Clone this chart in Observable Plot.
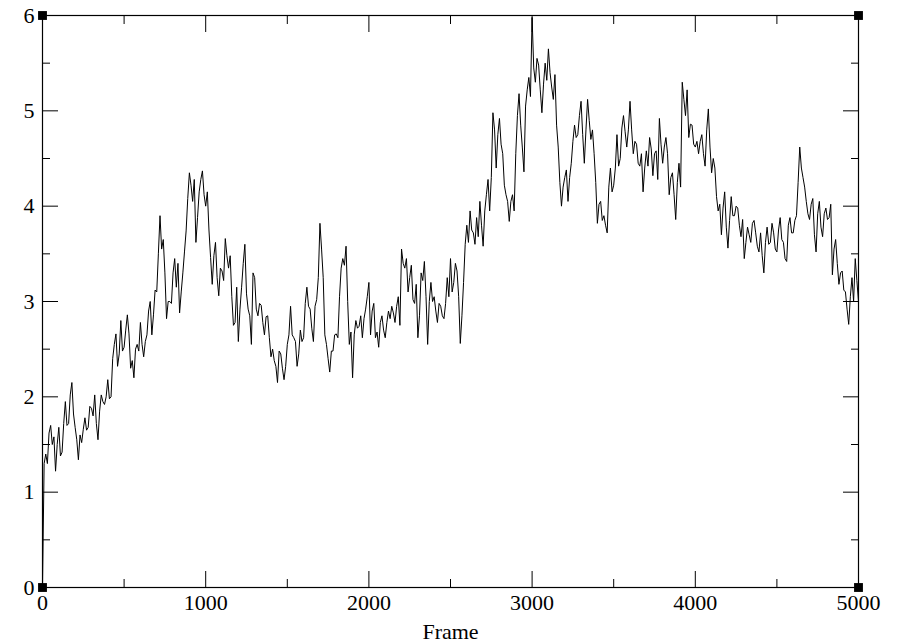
<!DOCTYPE html>
<html><head><meta charset="utf-8">
<script src="https://cdn.jsdelivr.net/npm/d3@7"></script>
<script src="https://cdn.jsdelivr.net/npm/@observablehq/plot@0.6"></script>
<style>html,body{margin:0;padding:0;background:#fff} svg{display:block}</style>
</head><body><div id="chart"></div>
<script>
// Frame step between samples (frames 0, 10, 20, ... 5000)
const frameStep = 10;
// Values, one per sample
const values = [
  0.00,1.30, 1.40,1.30, 1.62,1.70, 1.50,1.58, 1.22,1.50,
  1.68,1.38, 1.42,1.72, 1.95,1.70, 1.72,2.02, 2.15,1.82,
  1.68,1.55, 1.34,1.60, 1.52,1.66, 1.78,1.65, 1.68,1.90,
  1.88,1.80, 2.02,1.72, 1.55,1.85, 2.02,1.95, 1.92,2.00,
  2.18,1.98, 2.00,2.40, 2.55,2.66, 2.32,2.45, 2.80,2.48,
  2.52,2.70, 2.86,2.66, 2.30,2.38, 2.20,2.50, 2.55,2.48,
  2.78,2.55, 2.42,2.58, 2.65,2.90, 3.00,2.65, 2.86,3.12,
  3.10,3.50, 3.90,3.55, 3.65,3.30, 2.82,3.00, 3.00,2.98,
  3.30,3.45, 3.15,3.40, 2.88,3.10, 3.30,3.52, 3.74,4.08,
  4.35,4.22, 4.05,4.28, 3.62,3.88, 4.15,4.28, 4.37,4.12,
  4.00,4.15, 3.75,3.46, 3.18,3.48, 3.62,3.25, 3.06,3.35,
  3.32,3.22, 3.66,3.48, 3.35,3.48, 3.05,2.75, 2.78,3.15,
  2.58,2.92, 3.15,3.40, 3.60,3.08, 2.92,2.85, 2.55,3.30,
  3.25,2.92, 2.85,2.98, 2.96,2.78, 2.65,2.84, 2.85,2.62,
  2.42,2.50, 2.38,2.32, 2.15,2.48, 2.45,2.30, 2.18,2.32,
  2.55,2.65, 2.95,2.65, 2.62,2.58, 2.32,2.45, 2.70,2.58,
  2.62,2.98, 3.15,2.95, 2.92,2.72, 2.58,2.95, 3.02,3.25,
  3.82,3.55, 3.25,2.65, 2.55,2.40, 2.26,2.48, 2.48,2.65,
  2.66,2.62, 3.05,3.35, 3.45,3.38, 3.58,3.00, 2.55,2.68,
  2.20,2.65, 2.80,2.72, 2.74,2.85, 2.62,2.82, 2.92,3.05,
  3.20,2.65, 2.90,2.98, 2.62,2.68, 2.52,2.78, 2.85,2.70,
  2.62,2.78, 2.90,2.82, 2.95,2.88, 2.78,2.95, 3.05,2.75,
  3.55,3.40, 3.35,3.45, 3.10,3.25, 3.38,3.02, 2.98,3.18,
  2.62,2.85, 3.30,3.22, 3.42,3.05, 2.55,3.00, 3.20,3.00,
  3.05,2.90, 2.78,2.98, 2.95,2.85, 2.82,2.98, 3.25,3.05,
  3.45,3.10, 3.20,3.40, 3.32,3.05, 2.56,2.85, 3.20,3.60,
  3.80,3.62, 3.95,3.75, 3.72,3.60, 3.88,3.68, 4.05,3.80,
  3.58,3.95, 4.12,4.28, 3.95,4.30, 4.98,4.80, 4.40,4.75,
  4.92,4.65, 4.55,4.22, 4.12,4.05, 3.84,4.05, 4.12,3.95,
  4.55,4.95, 5.18,4.85, 4.62,4.36, 5.05,5.22, 5.35,5.15,
  5.98,5.45, 5.30,5.55, 5.48,5.22, 4.98,5.28, 5.50,5.32,
  5.65,5.40, 5.25,5.12, 5.38,4.85, 4.62,4.25, 4.00,4.20,
  4.30,4.38, 4.05,4.30, 4.45,4.68, 4.85,4.72, 4.75,4.95,
  5.10,4.75, 4.45,4.80, 5.12,4.90, 4.70,4.80, 4.55,4.25,
  3.82,4.02, 4.05,3.85, 3.90,3.80, 3.72,4.20, 4.40,4.15,
  4.22,4.40, 4.75,4.42, 4.50,4.82, 4.95,4.78, 4.62,4.80,
  5.10,4.80, 4.55,4.68, 4.65,4.45, 4.42,4.55, 4.15,4.40,
  4.58,4.42, 4.72,4.60, 4.32,4.55, 4.58,4.28, 4.92,4.65,
  4.45,4.62, 4.72,4.55, 4.12,4.30, 4.35,4.12, 3.86,4.25,
  4.45,4.20, 5.30,5.12, 4.95,5.22, 4.72,4.86, 4.85,4.65,
  4.62,4.68, 4.55,4.68, 4.75,4.55, 4.42,4.80, 5.02,4.62,
  4.35,4.50, 4.40,4.10, 3.95,4.02, 3.70,3.98, 4.15,3.78,
  3.56,3.85, 4.10,3.90, 3.90,4.00, 3.98,3.80, 3.68,3.86,
  3.45,3.62, 3.78,3.70, 3.62,3.82, 3.85,3.72, 3.58,3.52,
  3.72,3.48, 3.30,3.62, 3.78,3.60, 3.62,3.82, 3.72,3.55,
  3.52,3.75, 3.88,3.65, 3.62,3.45, 3.42,3.80, 3.88,3.72,
  3.72,3.85, 3.90,4.25, 4.62,4.40, 4.30,4.20, 4.05,3.92,
  3.86,4.02, 4.08,3.70, 3.52,3.92, 4.05,3.78, 3.68,3.92,
  3.98,3.86, 3.88,4.02, 3.28,3.55, 3.65,3.40, 3.18,3.30,
  3.32,3.12, 3.10,2.92, 2.76,3.05, 3.25,3.00, 3.45,3.22,
  3.00
];
const xDomain = [0, 5000];
const yDomain = [0, 6];
const xTicks = [0, 1000, 2000, 3000, 4000, 5000];
const xMinorTicks = [500, 1500, 2500, 3500, 4500];
const yTicks = [0, 1, 2, 3, 4, 5, 6];
const yMinorTicks = [0.5, 1.5, 2.5, 3.5, 4.5, 5.5];
const xLabel = "Frame";

const data = values.map((v, i) => ({frame: i * frameStep, value: v}));
const corners = [];
for (const cx of xDomain) for (const cy of yDomain) corners.push({cx, cy});

const font = "'Liberation Serif', 'Times New Roman', serif";
const tickOpts = {tickFormat: () => "", label: null, strokeWidth: 1};

const chart = Plot.plot({
  width: 897,
  height: 644,
  marginLeft: 42,
  marginRight: 39,
  marginTop: 15,
  marginBottom: 57,
  style: {fontFamily: font, fontSize: "22px", color: "black", background: "white", overflow: "visible"},
  x: {domain: xDomain},
  y: {domain: yDomain},
  marks: [
    Plot.line(data, {x: "frame", y: "value", stroke: "black", strokeWidth: 1}),
    Plot.frame({stroke: "black", strokeWidth: 1.2}),
    // inward major/minor ticks on all four sides
    Plot.axisX({anchor: "bottom", ticks: xTicks, tickSize: -16, ...tickOpts}),
    Plot.axisX({anchor: "bottom", ticks: xMinorTicks, tickSize: -8, ...tickOpts}),
    Plot.axisX({anchor: "top", ticks: xTicks, tickSize: -16, ...tickOpts}),
    Plot.axisX({anchor: "top", ticks: xMinorTicks, tickSize: -8, ...tickOpts}),
    Plot.axisY({anchor: "left", ticks: yTicks, tickSize: -16, ...tickOpts}),
    Plot.axisY({anchor: "left", ticks: yMinorTicks, tickSize: -8, ...tickOpts}),
    Plot.axisY({anchor: "right", ticks: yTicks, tickSize: -16, ...tickOpts}),
    Plot.axisY({anchor: "right", ticks: yMinorTicks, tickSize: -8, ...tickOpts}),
    // tick labels and axis title
    Plot.axisX({anchor: "bottom", ticks: xTicks, tickSize: 0, tickPadding: 7, tickFormat: d => String(d),
      fontFamily: font, fontSize: 22,
      label: xLabel, labelAnchor: "center", labelArrow: "none", labelOffset: 51}),
    Plot.axisY({anchor: "left", ticks: yTicks, tickSize: 0, tickPadding: 8, tickFormat: d => String(d),
      fontFamily: font, fontSize: 22, label: null}),
    // corner squares
    Plot.dot(corners, {x: "cx", y: "cy", symbol: "square", r: 5, fill: "black", stroke: null})
  ]
});
document.getElementById("chart").appendChild(chart);
</script>
</body></html>
